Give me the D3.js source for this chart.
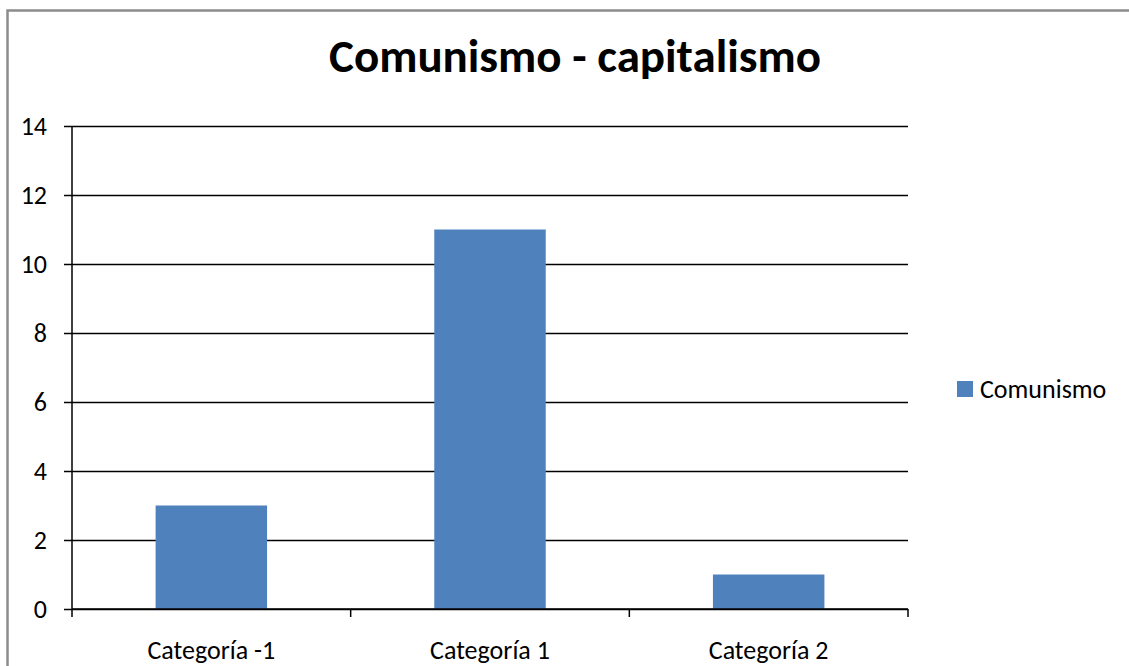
<!DOCTYPE html>
<html>
<head>
<meta charset="utf-8">
<script src="https://cdn.jsdelivr.net/npm/d3@7"></script>
<style>
  html, body { margin: 0; padding: 0; background: #fff; }
  svg { display: block; font-family: Carlito, Lato, "Open Sans", sans-serif; }
</style>
</head>
<body>
<div class="grafico"></div>
<script>
var categorias = ['Categoría -1', 'Categoría 1', 'Categoría 2']
var comunismo = [3, 11, 1]
var ticksY = [0, 2, 4, 6, 8, 10, 12, 14]
var serie = 'Comunismo'
var titulo = 'Comunismo - capitalismo'

;(function () {
  var W = 1129
  var H = 666
  var FUENTE = 'Carlito, Lato, "Open Sans", sans-serif'
  var plot = { left: 72, right: 908, top: 126, bottom: 609 }

  var svg = d3.select('.grafico').append('svg')
    .attr('width', W)
    .attr('height', H)

  // marco del grafico (recortado a la derecha y abajo)
  svg.append('rect')
    .attr('x', 7.5)
    .attr('y', 10.5)
    .attr('width', W + 20)
    .attr('height', H + 20)
    .attr('fill', 'none')
    .attr('stroke', '#8c8c8c')
    .attr('stroke-width', 2.5)

  svg.append('text')
    .attr('x', 575)
    .attr('y', 72)
    .attr('text-anchor', 'middle')
    .style('font-size', '47px')
    .style('font-weight', 'bold')
    .text(titulo)

  var x = d3.scaleBand()
    .domain(categorias)
    .range([plot.left, plot.right])
    .paddingInner(0.6)
    .paddingOuter(0.3)

  var xBordes = d3.scaleLinear()
    .domain([0, categorias.length])
    .range([plot.left, plot.right])

  var y = d3.scaleLinear()
    .domain([0, 14])
    .range([plot.bottom, plot.top])

  // lineas de division
  svg.append('g')
    .attr('transform', 'translate(' + plot.left + ',0)')
    .call(d3.axisLeft(y).tickValues(ticksY).tickSize(-(plot.right - plot.left)).tickSizeOuter(0).tickPadding(25))
    .call(function (g) {
      g.select('.domain').remove()
      g.selectAll('.tick line')
        .attr('x1', -8)
        .attr('stroke', '#000')
        .attr('stroke-width', 1.5)
      g.selectAll('.tick text')
        .style('font-size', '26px')
        .style('font-family', FUENTE)
        .attr('fill', '#000')
    })

  svg.append('g').selectAll('rect')
    .data(comunismo)
    .join('rect')
    .attr('x', function (d, i) { return x(categorias[i]) })
    .attr('y', function (d) { return y(d) })
    .attr('width', x.bandwidth())
    .attr('height', function (d) { return y(0) - y(d) })
    .attr('fill', '#4f81bd')

  // ejes
  svg.append('line')
    .attr('x1', plot.left).attr('x2', plot.left)
    .attr('y1', plot.top).attr('y2', plot.bottom)
    .attr('stroke', '#000').attr('stroke-width', 1.5)

  svg.append('g')
    .selectAll('line')
    .data(d3.range(categorias.length + 1))
    .join('line')
    .attr('x1', function (d) { return xBordes(d) })
    .attr('x2', function (d) { return xBordes(d) })
    .attr('y1', plot.bottom)
    .attr('y2', plot.bottom + 8)
    .attr('stroke', '#000').attr('stroke-width', 1.5)

  svg.append('line')
    .attr('x1', plot.left).attr('x2', plot.right)
    .attr('y1', plot.bottom).attr('y2', plot.bottom)
    .attr('stroke', '#000').attr('stroke-width', 1.5)

  svg.append('g')
    .selectAll('text')
    .data(categorias)
    .join('text')
    .attr('x', function (d) { return x(d) + x.bandwidth() / 2 })
    .attr('y', 659)
    .attr('text-anchor', 'middle')
    .style('font-size', '26px')
    .text(function (d) { return d })

  // leyenda
  svg.append('rect')
    .attr('x', 957).attr('y', 381)
    .attr('width', 16).attr('height', 16)
    .attr('fill', '#4f81bd')

  svg.append('text')
    .attr('x', 980)
    .attr('y', 398)
    .style('font-size', '26px')
    .text(serie)
})()
</script>
</body>
</html>
